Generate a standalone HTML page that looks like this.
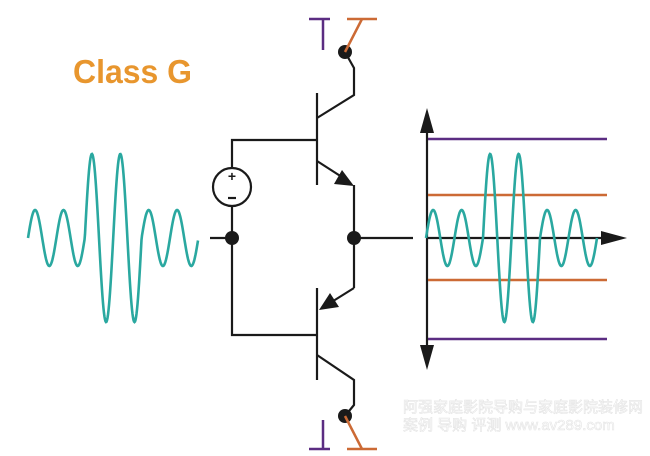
<!DOCTYPE html>
<html><head><meta charset="utf-8"><style>
html,body{margin:0;padding:0;background:#fff;width:650px;height:456px;overflow:hidden}
</style></head><body>
<svg width="650" height="456" viewBox="0 0 650 456" xmlns="http://www.w3.org/2000/svg">
<text x="73" y="83" font-family="Liberation Sans, sans-serif" font-weight="bold" font-size="33" fill="#e8962e" textLength="119" lengthAdjust="spacingAndGlyphs">Class G</text>
<g stroke="#1a1a1a" stroke-width="2.2" fill="none">
<polyline points="345,52 354,68 354,95 317,118"/>
<line x1="317" y1="93" x2="317" y2="185"/>
<polyline points="317,140 232,140 232,168"/>
<circle cx="232" cy="187" r="19"/>
<polyline points="232,206 232,335 317,335"/>
<line x1="210" y1="238" x2="232" y2="238"/>
<polyline points="317,161 345,179"/>
<polyline points="354,185 354,288"/>
<line x1="354" y1="238" x2="413" y2="238"/>
<polyline points="354,288 330,303"/>
<line x1="317" y1="288" x2="317" y2="380"/>
<polyline points="317,355 354,380 354,405 345,416"/>
<line x1="427" y1="125" x2="427" y2="355"/>
<line x1="427" y1="238" x2="605" y2="238"/>
</g>
<g fill="#1a1a1a">
<circle cx="345" cy="52" r="7"/>
<circle cx="345" cy="416" r="7"/>
<circle cx="232" cy="238" r="7"/>
<circle cx="354" cy="238" r="7"/>
<polygon points="354,186 334,184 342,170"/>
<polygon points="319,310 330,293 339,307"/>
<polygon points="427,108 420,133 434,133"/>
<polygon points="427,370 420,345 434,345"/>
<polygon points="627,238 601,231 601,245"/>
</g>
<text x="232" y="181" text-anchor="middle" font-family="Liberation Sans, sans-serif" font-weight="bold" font-size="14" fill="#1a1a1a">+</text>
<line x1="228" y1="198" x2="236" y2="198" stroke="#1a1a1a" stroke-width="2.2"/>
<g stroke="#5b2d82" stroke-width="2.5">
<line x1="309" y1="19" x2="330" y2="19"/><line x1="323" y1="19" x2="323" y2="50"/>
<line x1="309" y1="449" x2="330" y2="449"/><line x1="323" y1="420" x2="323" y2="449"/>
<line x1="428" y1="139" x2="607" y2="139"/><line x1="428" y1="339" x2="607" y2="339"/>
</g>
<g stroke="#cc6a35" stroke-width="2.5">
<line x1="347" y1="19" x2="377" y2="19"/><line x1="362" y1="19" x2="345" y2="52"/>
<line x1="347" y1="449" x2="377" y2="449"/><line x1="362" y1="449" x2="345" y2="416"/>
<line x1="428" y1="195" x2="607" y2="195"/><line x1="428" y1="280" x2="607" y2="280"/>
</g>
<path id="w1" fill="none" stroke="#2aa8a0" stroke-width="2.6"/>
<path id="w2" fill="none" stroke="#2aa8a0" stroke-width="2.6"/>
<g font-family="Liberation Sans, 'Noto Sans CJK SC', sans-serif" fill="#ffffff" stroke="#e4e4e4" stroke-width="0.6" font-size="15">
<text x="403" y="412">阿强家庭影院导购与家庭影院装修网</text>
<text x="403" y="430">案例 导购 评测  www.av289.com</text>
</g>
</svg>
<script>
function wave(x0,p,amps){var d="",per=p;for(var i=0;i<=6*per;i+=0.5){var k=Math.min(5,Math.floor(i/per));var a=amps[k];var y=238-a*Math.sin(2*Math.PI*i/per);d+=(i?"L":"M")+(x0+i).toFixed(1)+","+y.toFixed(1);}return d;}
document.getElementById("w1").setAttribute("d",wave(28,28.4,[28,28,84,84,28,28]));
document.getElementById("w2").setAttribute("d",wave(426,28.5,[28,28,84,84,28,28]));
</script>
</body></html>
